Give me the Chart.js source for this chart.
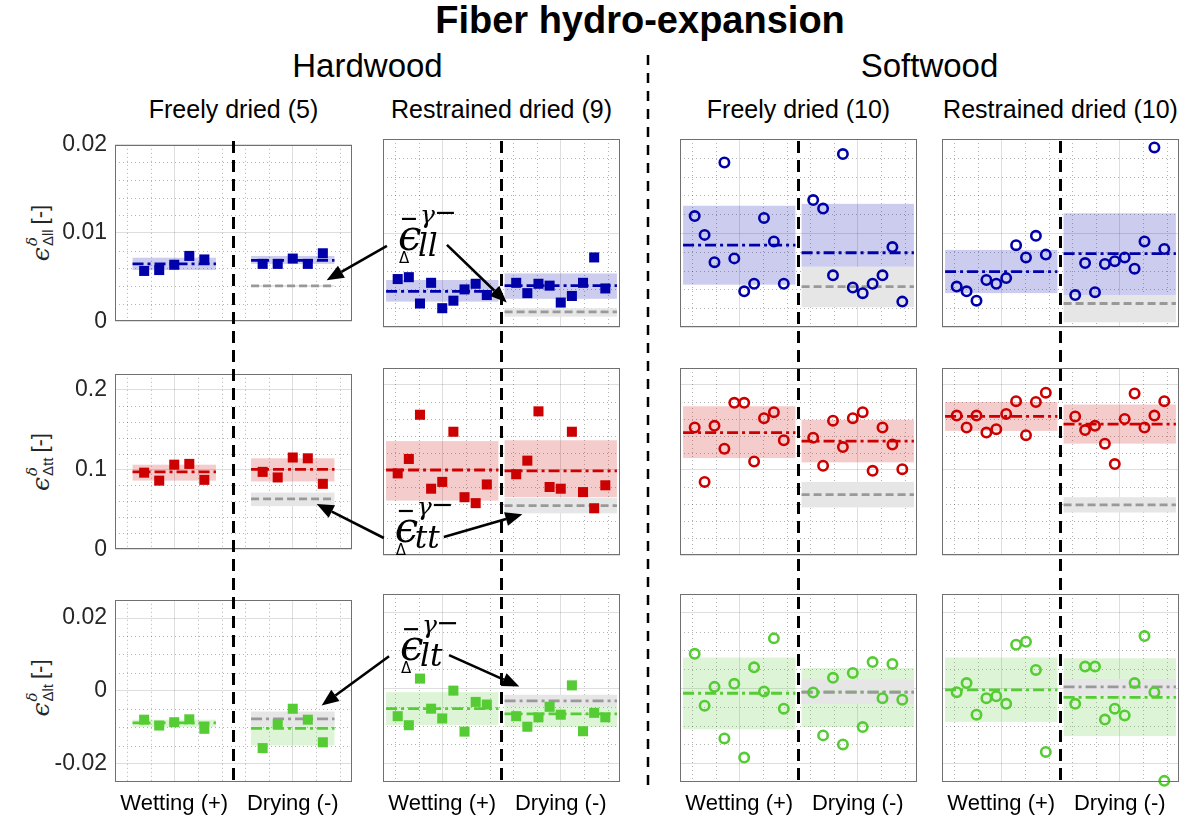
<!DOCTYPE html>
<html lang="en">
<head>
<meta charset="utf-8">
<title>Fiber hydro-expansion</title>
<script src="https://cdn.jsdelivr.net/npm/chart.js@4.4.1/dist/chart.umd.min.js"></script>
<style>
  html, body { margin: 0; padding: 0; background: #fff; }
  #fig { position: relative; width: 1195px; height: 825px; overflow: hidden;
         font-family: 'Liberation Sans', Arial, Helvetica, sans-serif; color: #000; }
  #fig canvas { position: absolute; }
  .head { position: absolute; white-space: nowrap; line-height: 1; transform: translateX(-50%); }
  .ylab { position: absolute; white-space: nowrap; display: flex; align-items: center;
          transform: translate(-50%, -50%) rotate(-90deg); color: #262626; }
  .ylab .eps { font-family: 'DejaVu Serif', serif; font-style: italic; font-size: 25px; line-height: 1; }
  .ylab .stack { display: inline-flex; flex-direction: column; font-size: 15px; line-height: 1.0; margin-left: 1px; }
  .ylab .sup { font-family: 'DejaVu Serif', serif; font-style: italic; }
  .ylab .unit { font-size: 22px; margin-left: 5px; }
</style>
</head>
<body>
<div id="fig"></div>
<script>
// ---------------- headings and labels ----------------
const figureTitle = 'Fiber hydro-expansion';
const woodGroups = ['Hardwood', 'Softwood'];
const panelTitles = ['Freely dried (5)', 'Restrained dried (9)', 'Freely dried (10)', 'Restrained dried (10)'];
const phaseLabels = ['Wetting (+)', 'Drying (-)'];
const componentSubs = ['ll', 'tt', 'lt'];

// ---------------- axes ----------------
const yRanges = [[0, 0.02], [0, 0.22], [-0.025, 0.025]];
const yTickValues = [[0, 0.01, 0.02], [0, 0.1, 0.2], [-0.02, 0, 0.02]];
const yTickLabels = [['0', '0.01', '0.02'], ['0', '0.1', '0.2'], ['-0.02', '0', '0.02']];
const yMinorStep = [0.002, 0.02, 0.005];
const xTickValues = [3, 8];

// ---------------- ll component ----------------
const llWet = [
  [0.0057, 0.0058, 0.0064, 0.0074, 0.0070],
  [0.0051, 0.0053, 0.0025, 0.0047, 0.0020, 0.0028, 0.0040, 0.0046, 0.0034],
  [0.0118, 0.0098, 0.0069, 0.0175, 0.0073, 0.0038, 0.0046, 0.0116, 0.0091, 0.0046],
  [0.0043, 0.0038, 0.0028, 0.0050, 0.0046, 0.0052, 0.0087, 0.0074, 0.0097, 0.0077]
];
const llDry = [
  [0.0065, 0.0065, 0.0071, 0.0065, 0.0077],
  [0.0047, 0.0036, 0.0046, 0.0044, 0.0026, 0.0033, 0.0047, 0.0074, 0.0041],
  [0.0135, 0.0126, 0.0055, 0.0184, 0.0042, 0.0036, 0.0046, 0.0055, 0.0085, 0.0027],
  [0.0034, 0.0068, 0.0037, 0.0067, 0.0070, 0.0074, 0.0062, 0.0091, 0.0191, 0.0083]
];
const llWetMean = [0.0065, 0.0038, 0.0087, 0.0059];
const llWetBand = [[0.0058, 0.0072], [0.0027, 0.0050], [0.0045, 0.0129], [0.0036, 0.0082]];
const llDryMean = [0.0069, 0.0044, 0.0079, 0.0078];
const llDryBand = [[0.0065, 0.0074], [0.0030, 0.0057], [0.0064, 0.0131], [0.0034, 0.0121]];
const llRefMean = [0.0040, 0.0016, 0.0043, 0.0025];
const llRefBand = [[0.0039, 0.0041], [0.0011, 0.0020], [0.0021, 0.0064], [0.0005, 0.0034]];

// ---------------- tt component ----------------
const ttWet = [
  [0.096, 0.086, 0.106, 0.107, 0.087],
  [0.096, 0.113, 0.165, 0.078, 0.086, 0.145, 0.068, 0.061, 0.083],
  [0.150, 0.086, 0.152, 0.125, 0.179, 0.179, 0.110, 0.161, 0.168, 0.135],
  [0.164, 0.150, 0.164, 0.144, 0.148, 0.166, 0.181, 0.141, 0.180, 0.191]
];
const ttDry = [
  [0.097, 0.090, 0.115, 0.114, 0.082],
  [0.095, 0.111, 0.169, 0.080, 0.078, 0.145, 0.074, 0.055, 0.082],
  [0.138, 0.105, 0.158, 0.127, 0.161, 0.168, 0.099, 0.150, 0.130, 0.101],
  [0.163, 0.147, 0.152, 0.131, 0.107, 0.160, 0.190, 0.150, 0.164, 0.181]
];
const ttWetMean = [0.097, 0.100, 0.144, 0.163];
const ttWetBand = [[0.086, 0.106], [0.064, 0.134], [0.114, 0.175], [0.146, 0.180]];
const ttDryMean = [0.100, 0.099, 0.134, 0.154];
const ttDryBand = [[0.085, 0.114], [0.068, 0.135], [0.109, 0.159], [0.131, 0.177]];
const ttRefMean = [0.063, 0.058, 0.071, 0.059];
const ttRefBand = [[0.054, 0.071], [0.049, 0.067], [0.056, 0.086], [0.050, 0.068]];

// ---------------- lt component ----------------
const ltWet = [
  [-0.0079, -0.0095, -0.0086, -0.0078, -0.0104],
  [-0.0075, -0.0099, 0.0025, -0.0055, -0.0081, -0.0007, -0.0116, -0.0037, -0.0044],
  [0.0091, -0.0047, 0.0003, -0.0134, 0.0011, -0.0185, 0.0055, -0.0009, 0.0132, -0.0055],
  [-0.0011, 0.0013, -0.0071, -0.0027, -0.0022, -0.0042, 0.0115, 0.0123, 0.0048, -0.0170]
];
const ltDry = [
  [-0.0157, -0.0091, -0.0049, -0.0079, -0.0141],
  [-0.0075, -0.0103, -0.0078, -0.0050, -0.0071, 0.0007, -0.0115, -0.0066, -0.0078],
  [-0.0012, -0.0126, 0.0027, -0.0150, 0.0040, -0.0104, 0.0069, -0.0027, 0.0064, -0.0031],
  [-0.0042, 0.0057, 0.0057, -0.0084, -0.0055, -0.0073, 0.0013, 0.0138, -0.0011, -0.0247]
];
const ltWetMean = [-0.0088, -0.0055, -0.0014, -0.0005];
const ltWetBand = [[-0.0099, -0.0079], [-0.0099, -0.0011], [-0.0110, 0.0081], [-0.0090, 0.0081]];
const ltDryMean = [-0.0103, -0.0069, -0.0011, -0.0025];
const ltDryBand = [[-0.0150, -0.0057], [-0.0104, -0.0044], [-0.0104, 0.0053], [-0.0128, 0.0079]];
const ltRefMean = [-0.0077, -0.0034, -0.0011, 0.0003];
const ltRefBand = [[-0.0097, -0.0057], [-0.0049, -0.0018], [-0.0042, 0.0022], [-0.0020, 0.0024]];

// ---------------- layout (page pixels) ----------------
const panelLeft = [115, 383, 680, 942];
const panelWidth = 237;
const rowTop = [139, 368, 594];
const rowHeight = [188, 187, 188];
const pointSpread = [1.27, 1.88, 1.88, 1.88];   // half-width of the marker spread, x units
// annotation anchors, in data units of the hardwood panels
const labelAnchor = [[1.13, 0.0082], [1.0, 0.0153], [1.22, 0.0074]];
const arrowTipLeft = [[9.43, 0.00465], [9.01, 0.0568], [9.22, -0.004]];
const arrowTipRight = [[5.72, 0.0026], [6.38, 0.048], [6.25, 0.0004]];

// ---------------- styles ----------------
const compColor = ['#0000aa', '#cc0000', '#55cc33'];
const compBand = ['rgba(0,0,170,0.2)', 'rgba(204,0,0,0.2)', 'rgba(85,204,51,0.2)'];
const refColor = '#999999';
const refBandColor = '#e6e6e6';
const dashDot = [11, 4, 3, 4];
const refDash = [[8, 4], [8, 4], [11, 4, 3, 4]];
const FONT = "'Liberation Sans', Arial, Helvetica, sans-serif";

const components = [
  { wet: llWet, dry: llDry, wetMean: llWetMean, wetBand: llWetBand, dryMean: llDryMean, dryBand: llDryBand, refMean: llRefMean, refBand: llRefBand },
  { wet: ttWet, dry: ttDry, wetMean: ttWetMean, wetBand: ttWetBand, dryMean: ttDryMean, dryBand: ttDryBand, refMean: ttRefMean, refBand: ttRefBand },
  { wet: ltWet, dry: ltDry, wetMean: ltWetMean, wetBand: ltWetBand, dryMean: ltDryMean, dryBand: ltDryBand, refMean: ltRefMean, refBand: ltRefBand }
];

const fig = document.getElementById('fig');

// ---------------- headings ----------------
function addHead(text, cx, top, size, bold) {
  const d = document.createElement('div');
  d.className = 'head';
  d.textContent = text;
  d.style.left = cx + 'px';
  d.style.top = top + 'px';
  d.style.fontSize = size + 'px';
  if (bold) d.style.fontWeight = 'bold';
  fig.appendChild(d);
}
const panelCenter = c => panelLeft[c] + panelWidth / 2;
addHead(figureTitle, 640, 1, 38, true);
addHead(woodGroups[0], (panelLeft[0] + panelLeft[1] + panelWidth) / 2, 49, 33);
addHead(woodGroups[1], (panelLeft[2] + panelLeft[3] + panelWidth) / 2, 49, 33);
panelTitles.forEach((t, c) => addHead(t, panelCenter(c), 97, 25));

// rotated y-axis titles
componentSubs.forEach((sub, r) => {
  const d = document.createElement('div');
  d.className = 'ylab';
  d.style.left = '40px';
  d.style.top = (rowTop[r] + rowHeight[r] / 2) + 'px';
  d.innerHTML = '<span class="eps">\u03F5</span><span class="stack"><span class="sup">\u03B4</span>' +
                '<span class="sub">\u0394' + sub + '</span></span><span class="unit">[-]</span>';
  fig.appendChild(d);
});

// ---------------- panel plugin: minor grid, bands, box ----------------
const panelDecor = {
  id: 'panelDecor',
  beforeDatasetsDraw(chart, args, opts) {
    const { ctx, chartArea: a, scales: { x, y } } = chart;
    ctx.save();
    ctx.beginPath();
    ctx.rect(a.left, a.top, a.right - a.left, a.bottom - a.top);
    ctx.clip();
    ctx.strokeStyle = 'rgba(0,0,0,0.3)';
    ctx.lineWidth = 1;
    ctx.setLineDash([1, 3]);
    ctx.beginPath();
    opts.xMinor.forEach(v => {
      const p = Math.round(x.getPixelForValue(v)) + 0.5;
      ctx.moveTo(p, a.top); ctx.lineTo(p, a.bottom);
    });
    opts.yMinor.forEach(v => {
      const p = Math.round(y.getPixelForValue(v)) + 0.5;
      ctx.moveTo(a.left, p); ctx.lineTo(a.right, p);
    });
    ctx.stroke();
    ctx.setLineDash([]);
    opts.bands.forEach(b => {
      const x0 = x.getPixelForValue(b.x0), x1 = x.getPixelForValue(b.x1);
      const y0 = y.getPixelForValue(b.hi), y1 = y.getPixelForValue(b.lo);
      ctx.fillStyle = b.color;
      ctx.fillRect(x0, y0, x1 - x0, y1 - y0);
    });
    ctx.restore();
  },
  afterDraw(chart) {
    const { ctx, chartArea: a } = chart;
    ctx.save();
    ctx.strokeStyle = '#707070';
    ctx.lineWidth = 1;
    ctx.strokeRect(Math.round(a.left) + 0.5, Math.round(a.top) + 0.5,
                   Math.round(a.right - a.left) - 1, Math.round(a.bottom - a.top) - 1);
    ctx.restore();
  }
};

function minorValues(min, max, step, majors) {
  const out = [];
  for (let k = Math.ceil(min / step - 1e-9); k <= Math.floor(max / step + 1e-9); k++) {
    const v = k * step;
    if (Math.abs(v - min) < step / 10 || Math.abs(v - max) < step / 10) continue;
    if (majors.some(m => Math.abs(m - v) < step / 10)) continue;
    out.push(v);
  }
  return out;
}

// ---------------- panels ----------------
const PAD = 16, TICK_W = 64, XLAB_H = 40;
const charts = [[], [], []];

function makePanel(r, c) {
  const comp = components[r];
  const tw = c === 0 ? TICK_W : 0;
  const xh = r === 2 ? XLAB_H : 0;
  const w = panelWidth + 2 * PAD + tw, h = rowHeight[r] + 2 * PAD + xh;
  const cv = document.createElement('canvas');
  cv.width = w; cv.height = h;
  cv.style.width = w + 'px'; cv.style.height = h + 'px';
  cv.style.left = (panelLeft[c] - PAD - tw) + 'px';
  cv.style.top = (rowTop[r] - PAD) + 'px';
  fig.appendChild(cv);

  const color = compColor[r];
  const hardwood = c < 2;
  const spread = pointSpread[c];
  const half = spread + 0.49;
  const wetX = xTickValues[0], dryX = xTickValues[1];

  const seg = (cx, v) => [{ x: cx - half, y: v }, { x: cx + half, y: v }];
  const pts = (cx, vals) => vals.map((v, i) => ({ x: cx - spread + 2 * spread * i / (vals.length - 1), y: v }));
  const lineStyle = (col, dash, order) => ({
    showLine: true, borderColor: col, borderWidth: 2.8, borderDash: dash,
    pointRadius: 0, fill: false, order: order, clip: false
  });
  const markerStyle = hardwood
    ? { pointStyle: 'rect', pointRadius: 7.1, pointBackgroundColor: color, pointBorderColor: color, pointBorderWidth: 0 }
    : { pointStyle: 'circle', pointRadius: 4.7, pointBackgroundColor: 'rgba(0,0,0,0)', pointBorderColor: color, pointBorderWidth: 2.6 };

  const datasets = [
    Object.assign({ label: 'wetting mean', data: seg(wetX, comp.wetMean[c]) }, lineStyle(color, dashDot, 3)),
    Object.assign({ label: 'drying mean', data: seg(dryX, comp.dryMean[c]) }, lineStyle(color, dashDot, 3)),
    Object.assign({ label: 'reference', data: seg(dryX, comp.refMean[c]) }, lineStyle(refColor, refDash[r], 2)),
    Object.assign({ label: 'wetting', data: pts(wetX, comp.wet[c]), order: 1, clip: false, showLine: false }, markerStyle),
    Object.assign({ label: 'drying', data: pts(dryX, comp.dry[c]), order: 1, clip: false, showLine: false }, markerStyle)
  ];

  const bands = [
    { x0: wetX - half, x1: wetX + half, lo: comp.wetBand[c][0], hi: comp.wetBand[c][1], color: compBand[r] },
    { x0: dryX - half, x1: dryX + half, lo: comp.dryBand[c][0], hi: comp.dryBand[c][1], color: compBand[r] },
    { x0: dryX - half, x1: dryX + half, lo: comp.refBand[c][0], hi: comp.refBand[c][1], color: refBandColor }
  ];

  const [ymin, ymax] = yRanges[r];
  const xMinor = [];
  for (let v = 1; v <= 10; v++) if (!xTickValues.includes(v)) xMinor.push(v);

  return new Chart(cv, {
    type: 'scatter',
    data: { datasets },
    options: {
      responsive: false,
      animation: false,
      devicePixelRatio: 1,
      layout: { padding: PAD },
      events: [],
      plugins: {
        legend: { display: false },
        tooltip: { enabled: false },
        panelDecor: { bands, xMinor, yMinor: minorValues(ymin, ymax, yMinorStep[r], yTickValues[r]) }
      },
      scales: {
        x: {
          type: 'linear', min: 0.5, max: 10.5,
          afterBuildTicks: s => { s.ticks = xTickValues.map(v => ({ value: v })); },
          afterFit: s => { s.height = xh; },
          ticks: {
            display: r === 2, autoSkip: false, maxRotation: 0, padding: 9,
            callback: (v, i) => phaseLabels[i],
            color: '#000', font: { family: FONT, size: 22 }
          },
          grid: { color: 'rgba(0,0,0,0.13)', lineWidth: 1, drawTicks: false },
          border: { display: false }
        },
        y: {
          type: 'linear', min: ymin, max: ymax,
          afterBuildTicks: s => { s.ticks = yTickValues[r].map(v => ({ value: v })); },
          afterFit: s => { s.width = tw; },
          ticks: {
            display: c === 0, padding: 8,
            callback: (v, i) => yTickLabels[r][i],
            color: '#262626', font: { family: FONT, size: 23 }
          },
          grid: { color: 'rgba(0,0,0,0.13)', lineWidth: 1, drawTicks: false },
          border: { display: false }
        }
      }
    },
    plugins: [panelDecor]
  });
}

for (let r = 0; r < 3; r++) for (let c = 0; c < 4; c++) charts[r][c] = makePanel(r, c);

// ---------------- overlay: dividers, arrows, annotation symbols ----------------
const ov = document.createElement('canvas');
ov.width = 1195; ov.height = 825;
ov.style.left = '0px'; ov.style.top = '0px';
ov.style.width = '1195px'; ov.style.height = '825px';
fig.appendChild(ov);
const g = ov.getContext('2d');

function pagePoint(chart, xv, yv) {
  const cv = chart.canvas;
  return [parseFloat(cv.style.left) + chart.scales.x.getPixelForValue(xv),
          parseFloat(cv.style.top) + chart.scales.y.getPixelForValue(yv)];
}

function dashedV(x, y0, y1, width, dash) {
  g.save();
  g.strokeStyle = '#000';
  g.lineWidth = width;
  g.setLineDash(dash);
  g.beginPath(); g.moveTo(x, y0); g.lineTo(x, y1); g.stroke();
  g.restore();
}

// hardwood / softwood divider
dashedV((panelLeft[1] + panelWidth + panelLeft[2]) / 2 - 2, 55, 786, 2.5, [10, 8]);
// wetting / drying divider in every column
const sepTop = rowTop[0] + 2, sepBottom = rowTop[2] + rowHeight[2] + 2;
for (let c = 0; c < 4; c++) {
  const x = pagePoint(charts[0][c], 5.5, 0)[0];
  dashedV(x, sepTop, sepBottom, 3, [12, 7]);
}

function arrow(x0, y0, x1, y1) {
  const ang = Math.atan2(y1 - y0, x1 - x0), L = 17, W = 7;
  const bx = x1 - L * Math.cos(ang), by = y1 - L * Math.sin(ang);
  g.save();
  g.strokeStyle = '#000'; g.fillStyle = '#000'; g.lineWidth = 2.6;
  g.beginPath(); g.moveTo(x0, y0); g.lineTo(bx, by); g.stroke();
  g.beginPath();
  g.moveTo(x1, y1);
  g.lineTo(bx + W * Math.sin(ang), by - W * Math.cos(ang));
  g.lineTo(bx - W * Math.sin(ang), by + W * Math.cos(ang));
  g.closePath(); g.fill();
  g.restore();
}

function epsLabel(ax, ay, sub) {
  g.save();
  g.fillStyle = '#000'; g.strokeStyle = '#000';
  g.textBaseline = 'alphabetic'; g.textAlign = 'left';
  g.font = "italic 42px 'DejaVu Serif', serif";
  g.fillText('\u03F5', ax, ay);
  g.lineWidth = 2.2;
  g.beginPath(); g.moveTo(ax + 4, ay - 31); g.lineTo(ax + 18, ay - 31); g.stroke();
  g.font = "italic 25px 'DejaVu Serif', serif";
  g.fillText('\u03B3', ax + 22, ay - 27);
  g.beginPath(); g.moveTo(ax + 39, ay - 37); g.lineTo(ax + 56, ay - 37); g.stroke();
  g.font = "15px 'DejaVu Sans', sans-serif";
  g.fillText('\u0394', ax + 1, ay + 13);
  g.font = "italic 31px 'DejaVu Serif', serif";
  g.fillText(sub, ax + 20, ay + 6);
  g.restore();
}

for (let r = 0; r < 3; r++) {
  const [ax, ay] = pagePoint(charts[r][1], labelAnchor[r][0], labelAnchor[r][1]);
  const tipL = pagePoint(charts[r][0], arrowTipLeft[r][0], arrowTipLeft[r][1]);
  const tipR = pagePoint(charts[r][1], arrowTipRight[r][0], arrowTipRight[r][1]);
  arrow(ax - 11, ay - 4, tipL[0], tipL[1]);
  arrow(ax + 49, ay - 5, tipR[0], tipR[1]);
  epsLabel(ax, ay, componentSubs[r]);
}
</script>
</body>
</html>
